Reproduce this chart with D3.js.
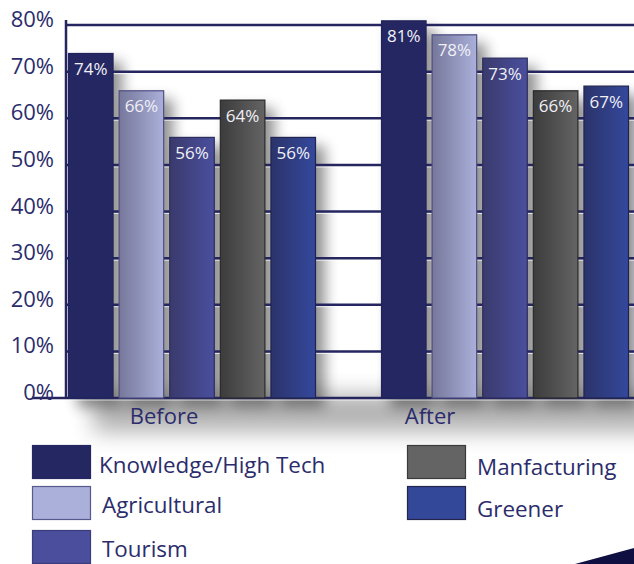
<!DOCTYPE html>
<html>
<head>
<meta charset="utf-8">
<script src="https://cdn.jsdelivr.net/npm/d3@7/dist/d3.min.js"></script>
<style>
  html, body { margin: 0; padding: 0; background: #fff; }
  svg { display: block; }
  text { font-family: "Open Sans", "Noto Sans", sans-serif; }
</style>
</head>
<body>
<script>
// Share of respondents per economic focus, before and after
const groups = ["Before", "After"];
const series = ["Knowledge/High Tech", "Agricultural", "Tourism", "Manfacturing", "Greener"];
const beforeValues = [74, 66, 56, 64, 56];
const afterValues = [81, 78, 73, 66, 67];
const yTicks = [0, 10, 20, 30, 40, 50, 60, 70, 80];

const W = 634, H = 564;
const navy = "#25265f";
const textNavy = "#2b2c6c";

// bar fills: [left shade, right shade, border]
const barStyle = {
  "Knowledge/High Tech": ["#252762", "#252762", "#22235a"],
  "Agricultural": ["#76779a", "#aab0da", "#4d4f80"],
  "Tourism": ["#3a3a6c", "#4a4f9e", "#2c2d5c"],
  "Manfacturing": ["#3c3c3c", "#646464", "#2a2a2a"],
  "Greener": ["#2b336a", "#34489c", "#1f2550"]
};
const legendFill = {
  "Knowledge/High Tech": ["#252762", "#252762"],
  "Agricultural": ["#aab0da", "#585a8e"],
  "Tourism": ["#4b4e9c", "#3a3c7c"],
  "Manfacturing": ["#646464", "#3a3a3a"],
  "Greener": ["#34489a", "#23264a"]
};

const rows = groups.map((g, gi) => ({
  group: g,
  items: series.map((s, si) => ({ series: s, value: (gi === 0 ? beforeValues : afterValues)[si] }))
}));

const svg = d3.select("body").append("svg").attr("width", W).attr("height", H);
const defs = svg.append("defs");

series.forEach((s, i) => {
  const lg = defs.append("linearGradient").attr("id", "g" + i)
    .attr("x1", "0%").attr("x2", "100%").attr("y1", "0%").attr("y2", "0%");
  lg.append("stop").attr("offset", "0%").attr("stop-color", barStyle[s][0]);
  lg.append("stop").attr("offset", "100%").attr("stop-color", barStyle[s][1]);
});
defs.append("filter").attr("id", "soft").attr("x", "-50%").attr("y", "-50%").attr("width", "200%").attr("height", "200%")
  .append("feGaussianBlur").attr("stdDeviation", 7);
defs.append("filter").attr("id", "haze").attr("x", "-50%").attr("y", "-100%").attr("width", "200%").attr("height", "300%")
  .append("feGaussianBlur").attr("stdDeviation", 11);

const y = d3.scaleLinear().domain([0, 80]).range([398, 25]);
const x0 = d3.scaleBand().domain(groups).range([68, 629]).paddingInner(0.2077).paddingOuter(0);
const x1 = d3.scaleBand().domain(series).range([0, x0.bandwidth()]).paddingInner(0.1).paddingOuter(0);

// soft haze under the baseline
svg.append("rect")
  .attr("x", x0("Before") + 25).attr("y", y(0) - 4)
  .attr("width", W - x0("Before")).attr("height", 38)
  .attr("fill", "#000").attr("opacity", 0.3).attr("filter", "url(#haze)");

// cast shadows of the bars
const shadow = svg.append("g").attr("filter", "url(#soft)").attr("opacity", 0.43);
rows.forEach(r => {
  shadow.selectAll(null).data(r.items).enter().append("rect")
    .attr("x", d => x0(r.group) + x1(d.series) + 9)
    .attr("y", d => y(d.value) + 9)
    .attr("width", x1.bandwidth())
    .attr("height", d => y(0) - y(d.value))
    .attr("fill", "#000");
});

// gridlines
const grid = svg.append("g");
grid.selectAll("line.hl").data(yTicks).enter().append("line")
  .attr("x1", 66).attr("x2", W).attr("y1", d => y(d) + 2).attr("y2", d => y(d) + 2)
  .attr("stroke", "#ffffff").attr("stroke-opacity", 0.7).attr("stroke-width", 1.2);
grid.selectAll("line.gl").data(yTicks).enter().append("line")
  .attr("x1", d => d === 0 ? 32 : 66).attr("x2", W).attr("y1", d => y(d)).attr("y2", d => y(d))
  .attr("stroke", navy).attr("stroke-width", 2.5);

// y-axis line
svg.append("line").attr("x1", 66).attr("x2", 66).attr("y1", 20).attr("y2", y(0) + 1)
  .attr("stroke", navy).attr("stroke-width", 2.5);

// bars
rows.forEach(r => {
  const g = svg.append("g").attr("transform", `translate(${x0(r.group)},0)`);
  g.selectAll("rect").data(r.items).enter().append("rect")
    .attr("x", d => x1(d.series) + 0.5)
    .attr("y", d => y(d.value) + 0.5)
    .attr("width", x1.bandwidth() - 1)
    .attr("height", d => y(0) - y(d.value) - 0.5)
    .attr("fill", d => "url(#g" + series.indexOf(d.series) + ")")
    .attr("stroke", d => barStyle[d.series][2])
    .attr("stroke-width", 1.2);
  g.selectAll("text").data(r.items).enter().append("text")
    .attr("x", d => x1(d.series) + x1.bandwidth() / 2)
    .attr("y", d => y(d.value) + 22)
    .attr("text-anchor", "middle")
    .attr("font-size", 17)
    .attr("fill", "#f0f0f6")
    .text(d => d.value + "%");
});

// y tick labels
svg.append("g").selectAll("text").data(yTicks).enter().append("text")
  .attr("x", 54).attr("y", d => y(d) + 2)
  .attr("text-anchor", "end")
  .attr("font-size", 22)
  .attr("fill", textNavy)
  .text(d => d + "%");

// group labels
const groupLabelOffset = { "Before": 96, "After": 49 };
svg.append("g").selectAll("text").data(groups).enter().append("text")
  .attr("x", d => x0(d) + groupLabelOffset[d])
  .attr("y", 424)
  .attr("text-anchor", "middle")
  .attr("font-size", 22)
  .attr("fill", textNavy)
  .text(d => d);

// legend
const legendPos = [[32, 445], [32, 486], [32, 530], [407, 445], [407, 486]];
const legendTextDx = [67, 70, 70, 70, 70];
const legendTextDy = [28, 27, 27, 30, 31];
const lg = svg.append("g");
series.forEach((s, i) => {
  const [lx, ly] = legendPos[i];
  lg.append("rect").attr("x", lx + 0.5).attr("y", ly + 0.5).attr("width", 58).attr("height", 33)
    .attr("fill", legendFill[s][0]).attr("stroke", legendFill[s][1]).attr("stroke-width", 1.2);
  lg.append("text").attr("x", lx + legendTextDx[i]).attr("y", ly + legendTextDy[i])
    .attr("font-size", 22.4).attr("fill", textNavy).text(s);
});

// corner wedge
svg.append("path").attr("d", `M575,${H} L${W},548 L${W},${H} Z`).attr("fill", "#0f0f42");
</script>
</body>
</html>
